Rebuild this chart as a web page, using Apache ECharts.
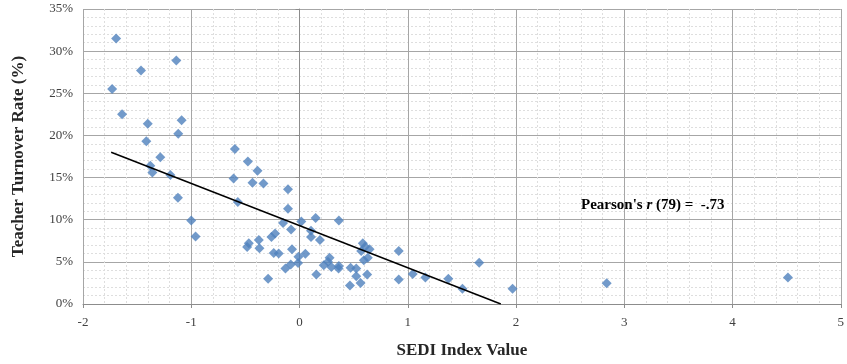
<!DOCTYPE html>
<html>
<head>
<meta charset="utf-8">
<script src="https://cdn.jsdelivr.net/npm/echarts@6/dist/echarts.min.js"></script>
<style>
  html, body { margin: 0; padding: 0; background: #fff; }
  #chart { width: 847px; height: 364px; }
</style>
</head>
<body>
<div id="chart"></div>
<script>
// SEDI index values (x) and teacher turnover rate in % (y)
var sediX = [
  -1.694, -1.138, -1.464, -1.731, -1.639, -1.402, -1.089, -1.12, -1.415, -1.286,
  -1.378, -1.359, -1.193, -1.123, -1.0, -0.96, -0.597, -0.477, -0.388, -0.609,
  -0.434, -0.333, -0.106, -0.57, -0.106, -0.152, 0.017, -0.078, 0.149, 0.364,
  0.106, 0.106, 0.189, -0.226, -0.259, -0.468, -0.376, -0.484, -0.37, -0.238,
  -0.192, -0.069, -0.01, 0.054, -0.081, -0.13, -0.013, -0.29, 0.156, 0.224,
  0.278, 0.263, 0.294, 0.364, 0.361, 0.472, 0.524, 0.524, 0.564, 0.466,
  0.625, 0.585, 0.607, 0.647, 0.57, 0.594, 0.631, 0.917, 0.917, 1.046,
  1.163, 1.375, 1.505, 1.66, 1.968, 2.838, 4.512
];
var turnover = [
  31.5, 28.9, 27.7, 25.5, 22.5, 21.4, 21.8, 20.2, 19.3, 17.4,
  16.4, 15.6, 15.3, 12.6, 9.9, 8.0, 18.4, 16.9, 15.8, 14.9,
  14.4, 14.3, 13.6, 12.1, 11.3, 9.6, 9.8, 8.85, 10.2, 9.9,
  8.7, 7.95, 7.6, 8.35, 7.96, 7.2, 7.6, 6.75, 6.6, 6.05,
  6.0, 6.5, 5.6, 5.95, 4.7, 4.2, 4.85, 3.0, 3.5, 4.6,
  5.5, 5.0, 4.4, 4.5, 4.2, 4.3, 4.2, 3.3, 2.5, 2.2,
  3.5, 7.2, 6.8, 6.5, 6.3, 5.2, 5.5, 6.3, 2.9, 3.55,
  3.15, 3.0, 1.8, 4.9, 1.8, 2.47, 3.14
];
// linear trend line end points
var trendX = [-1.74, 1.86];
var trendY = [18.0, 0];

var xTicks = { min: -2, max: 5, step: 1 };
var yTicks = { min: 0, max: 35, step: 5 };

var points = sediX.map(function (x, i) { return [x, turnover[i]]; });
var trend = trendX.map(function (x, i) { return [x, trendY[i]]; });

var serif = '"Liberation Serif", "Times New Roman", serif';

var myChart = echarts.init(document.getElementById('chart'));
myChart.setOption({
  animation: false,
  grid: {
    left: 83,
    right: 5,
    top: 9,
    bottom: 57
  },
  xAxis: {
    type: 'value',
    min: xTicks.min,
    max: xTicks.max,
    interval: xTicks.step,
    name: 'SEDI Index Value',
    nameLocation: 'middle',
    nameGap: 38,
    nameTextStyle: { fontFamily: serif, fontWeight: 'bold', fontSize: 17, color: '#262626' },
    axisLine: { show: true, onZero: false, lineStyle: { color: '#8c8c8c', width: 1 } },
    axisTick: { show: true, length: 4, lineStyle: { color: '#8c8c8c' } },
    axisLabel: { fontFamily: serif, fontSize: 13, color: '#404040', margin: 12 },
    splitLine: { show: true, lineStyle: { color: '#a6a6a6', width: 1 } },
    minorTick: { show: false, splitNumber: 5 },
    minorSplitLine: { show: true, lineStyle: { color: '#dedede', type: [2, 2], width: 1 } }
  },
  yAxis: {
    type: 'value',
    min: yTicks.min,
    max: yTicks.max,
    interval: yTicks.step,
    name: 'Teacher Turnover Rate (%)',
    nameLocation: 'middle',
    nameGap: 56,
    nameTextStyle: { fontFamily: serif, fontWeight: 'bold', fontSize: 17, color: '#262626' },
    axisLine: { show: true, lineStyle: { color: '#8c8c8c', width: 1 } },
    axisTick: { show: true, length: 4, lineStyle: { color: '#8c8c8c' } },
    axisLabel: { fontFamily: serif, fontSize: 13, color: '#404040', margin: 10, formatter: '{value}%' },
    splitLine: { show: true, lineStyle: { color: '#a6a6a6', width: 1 } },
    minorTick: { show: false, splitNumber: 5 },
    minorSplitLine: { show: true, lineStyle: { color: '#dedede', type: [2, 2], width: 1 } }
  },
  graphic: [{
    type: 'text',
    left: 581,
    top: 198,
    z: 10,
    style: {
      text: "{b|Pearson's }{i|r}{b| (79) =  -.73}",
      rich: {
        b: { fontFamily: serif, fontWeight: 'bold', fontSize: 15, fill: '#000' },
        i: { fontFamily: serif, fontWeight: 'bold', fontStyle: 'italic', fontSize: 15, fill: '#000' }
      }
    }
  }],
  series: [
    {
      name: 'Schools',
      type: 'scatter',
      symbol: 'diamond',
      symbolSize: [10, 10],
      itemStyle: { color: '#4F81BD' },
      data: points,
      z: 3
    },
    {
      name: 'Trend',
      type: 'line',
      symbol: 'none',
      lineStyle: { color: '#000', width: 1.5 },
      data: trend,
      z: 4
    }
  ]
});
</script>
</body>
</html>
